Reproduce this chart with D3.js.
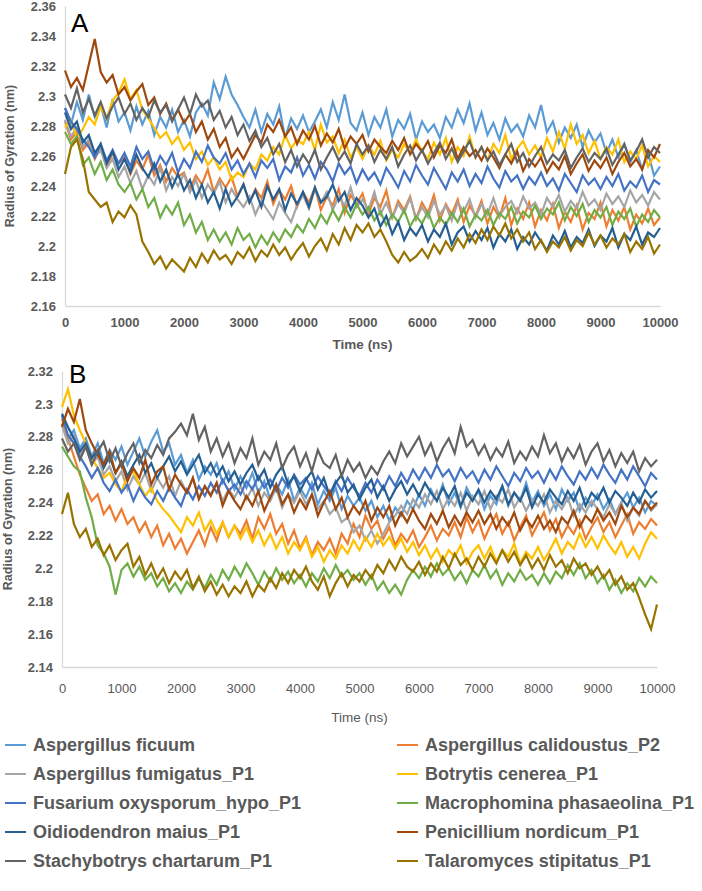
<!DOCTYPE html>
<html>
<head>
<meta charset="utf-8">
<script src="https://cdn.jsdelivr.net/npm/d3@7/dist/d3.min.js"></script>
<style>
  html, body { margin: 0; padding: 0; background: #fff; }
  svg { display: block; font-family: "Liberation Sans", Arial, sans-serif; }
</style>
</head>
<body>
<svg id="chart" width="702" height="891"></svg>
<script>
// ---------------- DATA ----------------
const timeNs = d3.range(0, 10001, 100);

const seriesNames = [
  "Aspergillus ficuum", "Aspergillus calidoustus_P2",
  "Aspergillus fumigatus_P1", "Botrytis cenerea_P1",
  "Fusarium oxysporum_hypo_P1", "Macrophomina phasaeolina_P1",
  "Oidiodendron maius_P1", "Penicillium nordicum_P1",
  "Stachybotrys chartarum_P1", "Talaromyces stipitatus_P1"
];
const seriesColors = ["#5B9BD5", "#ED7D31", "#A5A5A5", "#FFC000", "#4472C4",
                      "#70AD47", "#255E91", "#9E480E", "#636363", "#997300"];

const xTicks = [0, 1000, 2000, 3000, 4000, 5000, 6000, 7000, 8000, 9000, 10000];
const yTicksA = [2.16, 2.18, 2.2, 2.22, 2.24, 2.26, 2.28, 2.3, 2.32, 2.34, 2.36];
const yTicksB = [2.14, 2.16, 2.18, 2.2, 2.22, 2.24, 2.26, 2.28, 2.3, 2.32];

// Panel A
const A_ficuum = [2.292,2.281,2.296,2.284,2.301,2.286,2.294,2.279,2.298,2.283,
2.289,2.277,2.293,2.281,2.290,2.274,2.286,2.279,2.291,2.276,
2.284,2.273,2.289,2.295,2.287,2.309,2.298,2.313,2.301,2.294,
2.286,2.279,2.291,2.276,2.288,2.281,2.293,2.272,2.285,2.278,
2.287,2.276,2.283,2.291,2.279,2.296,2.284,2.301,2.282,2.277,
2.289,2.274,2.286,2.279,2.291,2.273,2.284,2.278,2.288,2.271,
2.283,2.276,2.281,2.272,2.286,2.279,2.291,2.282,2.295,2.277,
2.289,2.274,2.282,2.271,2.285,2.276,2.281,2.273,2.287,2.279,
2.294,2.276,2.283,2.269,2.279,2.272,2.281,2.266,2.277,2.269,
2.275,2.262,2.271,2.259,2.268,2.256,2.264,2.251,2.262,2.247,
2.253];
const A_calidoustus = [2.283,2.271,2.276,2.264,2.269,2.258,2.266,2.253,2.262,2.255,
2.259,2.248,2.257,2.251,2.261,2.247,2.254,2.243,2.252,2.246,
2.249,2.238,2.247,2.241,2.251,2.236,2.245,2.239,2.246,2.233,
2.241,2.229,2.238,2.232,2.243,2.228,2.237,2.231,2.240,2.226,
2.236,2.229,2.239,2.224,2.233,2.227,2.238,2.222,2.234,2.228,
2.235,2.221,2.232,2.226,2.237,2.219,2.230,2.224,2.233,2.218,
2.229,2.222,2.234,2.217,2.228,2.221,2.231,2.216,2.227,2.220,
2.230,2.215,2.226,2.219,2.232,2.214,2.225,2.218,2.229,2.213,
2.224,2.217,2.228,2.212,2.223,2.216,2.227,2.211,2.222,2.218,
2.229,2.213,2.224,2.217,2.226,2.211,2.221,2.215,2.225,2.214,
2.219];
const A_fumigatus = [2.284,2.273,2.279,2.266,2.271,2.259,2.264,2.252,2.258,2.246,
2.253,2.242,2.250,2.238,2.247,2.241,2.252,2.237,2.246,2.240,
2.248,2.236,2.244,2.232,2.241,2.235,2.243,2.229,2.238,2.231,
2.226,2.233,2.221,2.230,2.224,2.218,2.229,2.222,2.216,2.227,
2.234,2.225,2.238,2.229,2.236,2.224,2.233,2.227,2.239,2.226,
2.231,2.224,2.236,2.221,2.229,2.219,2.228,2.222,2.232,2.218,
2.226,2.219,2.230,2.221,2.227,2.217,2.229,2.223,2.231,2.219,
2.228,2.221,2.232,2.220,2.226,2.230,2.222,2.233,2.225,2.229,
2.221,2.232,2.226,2.234,2.223,2.230,2.225,2.236,2.227,2.231,
2.224,2.235,2.228,2.233,2.226,2.237,2.229,2.234,2.227,2.236,
2.231];
const A_botrytis = [2.279,2.284,2.272,2.278,2.286,2.281,2.293,2.285,2.297,2.302,
2.311,2.298,2.304,2.291,2.285,2.279,2.272,2.276,2.268,2.273,
2.264,2.269,2.258,2.263,2.254,2.259,2.251,2.256,2.244,2.249,
2.246,2.255,2.251,2.261,2.257,2.266,2.261,2.274,2.265,2.271,
2.268,2.276,2.264,2.281,2.269,2.273,2.262,2.271,2.259,2.266,
2.258,2.267,2.261,2.270,2.257,2.264,2.259,2.268,2.262,2.271,
2.263,2.258,2.269,2.261,2.272,2.256,2.266,2.260,2.273,2.259,
2.266,2.257,2.268,2.262,2.274,2.258,2.265,2.270,2.261,2.267,
2.259,2.272,2.263,2.276,2.265,2.281,2.268,2.274,2.262,2.270,
2.258,2.266,2.261,2.271,2.256,2.263,2.258,2.267,2.253,2.260,
2.256];
const A_fusarium = [2.292,2.283,2.278,2.271,2.266,2.259,2.268,2.257,2.264,2.255,
2.262,2.253,2.266,2.258,2.263,2.251,2.260,2.254,2.262,2.249,
2.258,2.252,2.263,2.256,2.267,2.259,2.255,2.262,2.251,2.257,
2.248,2.255,2.246,2.257,2.252,2.258,2.244,2.253,2.249,2.259,
2.247,2.254,2.245,2.256,2.251,2.243,2.255,2.248,2.253,2.242,
2.251,2.244,2.249,2.241,2.252,2.246,2.239,2.250,2.243,2.254,
2.247,2.241,2.252,2.245,2.238,2.249,2.243,2.251,2.240,2.248,
2.242,2.253,2.245,2.239,2.250,2.243,2.247,2.238,2.246,2.241,
2.249,2.240,2.245,2.237,2.248,2.242,2.236,2.247,2.241,2.245,
2.238,2.246,2.240,2.248,2.237,2.243,2.239,2.247,2.236,2.244,
2.241];
const A_macrophomina = [2.276,2.268,2.273,2.254,2.259,2.248,2.256,2.244,2.251,2.241,
2.236,2.242,2.231,2.238,2.226,2.232,2.219,2.227,2.221,2.229,
2.214,2.221,2.209,2.216,2.204,2.211,2.203,2.209,2.201,2.212,
2.204,2.208,2.199,2.207,2.201,2.209,2.203,2.211,2.206,2.214,
2.209,2.218,2.212,2.221,2.215,2.224,2.217,2.226,2.219,2.228,
2.221,2.226,2.217,2.223,2.214,2.221,2.216,2.224,2.213,2.220,
2.215,2.223,2.212,2.219,2.214,2.222,2.216,2.225,2.213,2.221,
2.217,2.224,2.214,2.222,2.218,2.226,2.215,2.223,2.219,2.227,
2.218,2.225,2.221,2.229,2.217,2.226,2.220,2.228,2.216,2.224,
2.219,2.226,2.214,2.223,2.218,2.225,2.213,2.221,2.216,2.224,
2.219];
const A_oidiodendron = [2.289,2.278,2.283,2.269,2.274,2.262,2.268,2.255,2.263,2.251,
2.258,2.249,2.261,2.252,2.246,2.255,2.243,2.251,2.239,2.248,
2.237,2.244,2.232,2.241,2.229,2.236,2.225,2.238,2.227,2.233,
2.241,2.229,2.237,2.226,2.240,2.231,2.238,2.224,2.235,2.228,
2.236,2.226,2.239,2.229,2.233,2.241,2.230,2.236,2.224,2.232,
2.227,2.219,2.225,2.213,2.220,2.208,2.216,2.204,2.212,2.207,
2.214,2.203,2.211,2.206,2.215,2.201,2.209,2.213,2.203,2.210,
2.204,2.212,2.199,2.208,2.203,2.211,2.198,2.206,2.201,2.209,
2.203,2.197,2.207,2.201,2.210,2.199,2.206,2.202,2.211,2.200,
2.207,2.203,2.212,2.199,2.208,2.204,2.213,2.201,2.209,2.206,
2.212];
const A_penicillium = [2.317,2.306,2.312,2.304,2.321,2.338,2.316,2.309,2.314,2.301,
2.306,2.297,2.303,2.308,2.294,2.299,2.288,2.295,2.284,2.291,
2.282,2.288,2.276,2.283,2.271,2.278,2.266,2.272,2.259,2.265,
2.258,2.266,2.274,2.269,2.281,2.276,2.284,2.273,2.279,2.268,
2.277,2.271,2.280,2.267,2.275,2.269,2.278,2.265,2.273,2.268,
2.274,2.263,2.271,2.266,2.262,2.270,2.264,2.272,2.261,2.268,
2.263,2.270,2.259,2.267,2.262,2.271,2.258,2.266,2.260,2.264,
2.257,2.265,2.259,2.252,2.261,2.255,2.263,2.250,2.258,2.253,
2.259,2.249,2.256,2.251,2.260,2.248,2.255,2.261,2.250,2.257,
2.252,2.259,2.248,2.256,2.262,2.253,2.258,2.251,2.264,2.259,
2.268];
const A_stachybotrys = [2.301,2.292,2.305,2.289,2.298,2.287,2.296,2.285,2.293,2.299,
2.288,2.295,2.284,2.292,2.286,2.297,2.289,2.294,2.283,2.291,
2.299,2.288,2.301,2.293,2.297,2.284,2.290,2.279,2.286,2.274,
2.281,2.270,2.277,2.266,2.272,2.261,2.268,2.256,2.264,2.253,
2.261,2.255,2.264,2.251,2.259,2.266,2.257,2.263,2.255,2.268,
2.261,2.267,2.256,2.264,2.258,2.266,2.253,2.261,2.267,2.257,
2.264,2.255,2.262,2.269,2.258,2.265,2.256,2.263,2.270,2.259,
2.266,2.257,2.263,2.254,2.261,2.268,2.256,2.262,2.253,2.260,
2.266,2.255,2.261,2.257,2.264,2.252,2.259,2.265,2.256,2.262,
2.258,2.265,2.254,2.261,2.268,2.257,2.263,2.271,2.259,2.266,
2.262];
const A_talaromyces = [2.248,2.266,2.271,2.258,2.236,2.231,2.226,2.229,2.216,2.223,
2.219,2.227,2.221,2.203,2.196,2.188,2.193,2.185,2.191,2.187,
2.183,2.192,2.186,2.195,2.189,2.197,2.191,2.194,2.188,2.196,
2.192,2.199,2.190,2.197,2.193,2.201,2.194,2.199,2.191,2.197,
2.202,2.193,2.200,2.205,2.197,2.208,2.201,2.212,2.204,2.214,
2.209,2.215,2.206,2.211,2.203,2.194,2.189,2.196,2.190,2.193,
2.198,2.192,2.201,2.195,2.203,2.197,2.205,2.199,2.208,2.202,
2.211,2.204,2.213,2.207,2.215,2.205,2.211,2.203,2.209,2.198,
2.204,2.196,2.203,2.199,2.206,2.197,2.204,2.200,2.209,2.201,
2.207,2.199,2.205,2.201,2.208,2.196,2.203,2.198,2.206,2.195,
2.201];

// Panel B
const B_ficuum = [2.288,2.279,2.284,2.273,2.279,2.268,2.276,2.264,2.272,2.266,
2.274,2.263,2.271,2.279,2.268,2.277,2.284,2.271,2.276,2.263,
2.269,2.258,2.266,2.254,2.262,2.257,2.264,2.252,2.259,2.248,
2.256,2.249,2.258,2.246,2.253,2.242,2.251,2.245,2.254,2.241,
2.249,2.243,2.252,2.239,2.247,2.241,2.249,2.236,2.244,2.238,
2.243,2.235,2.241,2.231,2.238,2.229,2.237,2.232,2.241,2.236,
2.245,2.238,2.248,2.241,2.251,2.239,2.246,2.237,2.249,2.242,
2.247,2.236,2.244,2.239,2.250,2.238,2.246,2.241,2.252,2.240,
2.247,2.238,2.245,2.236,2.248,2.241,2.246,2.235,2.243,2.238,
2.245,2.236,2.242,2.233,2.240,2.246,2.237,2.243,2.234,2.241,
2.238];
const B_calidoustus = [2.291,2.279,2.268,2.257,2.249,2.241,2.245,2.233,2.238,2.229,
2.236,2.227,2.231,2.222,2.228,2.219,2.226,2.214,2.221,2.212,
2.218,2.209,2.216,2.223,2.214,2.225,2.217,2.228,2.219,2.226,
2.221,2.229,2.218,2.231,2.224,2.233,2.221,2.227,2.215,2.223,
2.212,2.219,2.208,2.216,2.211,2.218,2.209,2.221,2.215,2.227,
2.219,2.232,2.224,2.229,2.218,2.225,2.214,2.221,2.216,2.223,
2.213,2.219,2.226,2.217,2.224,2.220,2.228,2.219,2.231,2.222,
2.229,2.218,2.226,2.233,2.221,2.228,2.217,2.225,2.232,2.220,
2.227,2.234,2.223,2.230,2.219,2.226,2.221,2.229,2.218,2.225,
2.231,2.222,2.228,2.219,2.226,2.233,2.221,2.228,2.224,2.230,
2.226];
const B_fumigatus = [2.287,2.276,2.281,2.269,2.274,2.263,2.268,2.257,2.262,2.253,
2.259,2.248,2.256,2.251,2.258,2.247,2.255,2.249,2.256,2.244,
2.253,2.246,2.255,2.243,2.250,2.245,2.252,2.241,2.248,2.243,
2.250,2.242,2.249,2.238,2.246,2.241,2.249,2.237,2.245,2.240,
2.247,2.239,2.245,2.236,2.241,2.233,2.237,2.228,2.231,2.222,
2.226,2.217,2.223,2.215,2.221,2.228,2.232,2.238,2.233,2.242,
2.237,2.245,2.239,2.247,2.236,2.243,2.238,2.246,2.235,2.244,
2.239,2.247,2.236,2.244,2.240,2.248,2.237,2.243,2.235,2.242,
2.238,2.245,2.234,2.241,2.236,2.243,2.232,2.239,2.234,2.241,
2.236,2.231,2.239,2.233,2.240,2.229,2.237,2.232,2.241,2.235,
2.239];
const B_botrytis = [2.298,2.309,2.293,2.284,2.276,2.267,2.261,2.255,2.258,2.251,
2.247,2.256,2.259,2.251,2.244,2.249,2.241,2.236,2.232,2.227,
2.222,2.231,2.226,2.234,2.223,2.229,2.221,2.228,2.219,2.226,
2.218,2.225,2.216,2.223,2.214,2.221,2.212,2.219,2.209,2.216,
2.211,2.218,2.207,2.213,2.204,2.211,2.206,2.214,2.209,2.217,
2.211,2.219,2.213,2.221,2.214,2.219,2.212,2.218,2.210,2.216,
2.208,2.214,2.206,2.212,2.204,2.211,2.207,2.214,2.203,2.210,
2.214,2.206,2.213,2.204,2.211,2.207,2.215,2.203,2.210,2.206,
2.213,2.205,2.211,2.218,2.209,2.216,2.212,2.221,2.213,2.219,
2.212,2.220,2.214,2.209,2.216,2.207,2.213,2.206,2.215,2.222,
2.218];
const B_fusarium = [2.293,2.281,2.276,2.268,2.262,2.255,2.261,2.252,2.247,2.254,
2.246,2.251,2.241,2.249,2.243,2.239,2.247,2.241,2.249,2.243,
2.238,2.248,2.242,2.250,2.244,2.252,2.246,2.254,2.247,2.251,
2.245,2.253,2.248,2.256,2.249,2.254,2.247,2.255,2.249,2.257,
2.251,2.255,2.248,2.256,2.250,2.245,2.253,2.247,2.255,2.249,
2.244,2.252,2.246,2.254,2.248,2.256,2.250,2.258,2.252,2.260,
2.254,2.261,2.255,2.263,2.256,2.260,2.253,2.261,2.255,2.259,
2.252,2.260,2.254,2.262,2.256,2.250,2.258,2.253,2.261,2.255,
2.259,2.252,2.260,2.254,2.262,2.256,2.251,2.259,2.254,2.261,
2.255,2.263,2.257,2.252,2.260,2.254,2.262,2.256,2.250,2.258,
2.254];
const B_macrophomina = [2.274,2.268,2.262,2.259,2.243,2.231,2.214,2.209,2.201,2.184,
2.199,2.203,2.195,2.201,2.193,2.197,2.189,2.194,2.186,2.191,
2.185,2.192,2.187,2.194,2.188,2.196,2.190,2.199,2.193,2.201,
2.195,2.203,2.197,2.190,2.198,2.192,2.200,2.193,2.198,2.191,
2.196,2.189,2.197,2.192,2.200,2.194,2.202,2.195,2.199,2.193,
2.197,2.190,2.196,2.187,2.192,2.185,2.190,2.184,2.193,2.199,
2.194,2.201,2.195,2.203,2.196,2.200,2.193,2.198,2.191,2.199,
2.195,2.202,2.194,2.199,2.190,2.197,2.192,2.199,2.193,2.196,
2.190,2.197,2.191,2.198,2.194,2.202,2.196,2.203,2.194,2.199,
2.191,2.196,2.187,2.193,2.185,2.191,2.186,2.194,2.189,2.195,
2.191];
const B_oidiodendron = [2.294,2.286,2.279,2.271,2.276,2.267,2.272,2.261,2.268,2.258,
2.265,2.256,2.263,2.269,2.258,2.264,2.255,2.262,2.268,2.259,
2.265,2.257,2.263,2.269,2.258,2.264,2.256,2.262,2.253,2.259,
2.251,2.258,2.263,2.254,2.260,2.249,2.257,2.262,2.251,2.256,
2.247,2.254,2.259,2.248,2.255,2.244,2.252,2.257,2.246,2.251,
2.242,2.249,2.254,2.243,2.250,2.241,2.248,2.253,2.245,2.251,
2.244,2.252,2.246,2.241,2.249,2.243,2.250,2.238,2.246,2.241,
2.248,2.240,2.247,2.242,2.250,2.239,2.246,2.241,2.249,2.237,
2.245,2.240,2.248,2.243,2.239,2.247,2.241,2.249,2.238,2.246,
2.242,2.249,2.240,2.247,2.243,2.238,2.246,2.240,2.248,2.243,
2.247];
const B_penicillium = [2.286,2.297,2.289,2.303,2.284,2.276,2.269,2.263,2.271,2.258,
2.264,2.253,2.261,2.255,2.266,2.251,2.259,2.262,2.248,2.257,
2.251,2.246,2.255,2.242,2.250,2.244,2.252,2.238,2.247,2.241,
2.236,2.244,2.238,2.247,2.235,2.243,2.251,2.239,2.245,2.234,
2.242,2.236,2.245,2.232,2.240,2.247,2.236,2.243,2.231,2.238,
2.233,2.241,2.229,2.237,2.231,2.238,2.226,2.234,2.228,2.236,
2.229,2.224,2.233,2.227,2.235,2.225,2.232,2.226,2.234,2.228,
2.235,2.227,2.233,2.224,2.231,2.226,2.234,2.223,2.230,2.225,
2.232,2.224,2.229,2.222,2.231,2.227,2.235,2.225,2.232,2.228,
2.236,2.229,2.234,2.227,2.238,2.231,2.237,2.233,2.241,2.236,
2.240];
const B_stachybotrys = [2.279,2.271,2.276,2.266,2.274,2.263,2.271,2.277,2.265,2.273,
2.262,2.270,2.276,2.264,2.272,2.267,2.275,2.269,2.279,2.283,
2.288,2.281,2.294,2.278,2.286,2.271,2.279,2.268,2.276,2.264,
2.273,2.267,2.279,2.263,2.271,2.266,2.276,2.261,2.269,2.274,
2.262,2.270,2.259,2.272,2.264,2.261,2.269,2.256,2.266,2.259,
2.264,2.255,2.262,2.257,2.265,2.271,2.264,2.276,2.268,2.274,
2.280,2.269,2.276,2.265,2.273,2.279,2.270,2.286,2.274,2.278,
2.269,2.275,2.266,2.273,2.268,2.277,2.264,2.271,2.266,2.274,
2.268,2.281,2.270,2.276,2.265,2.273,2.267,2.275,2.263,2.271,
2.276,2.265,2.272,2.262,2.270,2.264,2.271,2.259,2.267,2.262,
2.266];
const B_talaromyces = [2.233,2.246,2.227,2.219,2.224,2.213,2.218,2.208,2.214,2.205,
2.211,2.215,2.201,2.207,2.196,2.203,2.194,2.200,2.191,2.198,
2.193,2.199,2.188,2.195,2.186,2.192,2.184,2.190,2.183,2.189,
2.185,2.192,2.183,2.190,2.186,2.194,2.188,2.197,2.191,2.199,
2.194,2.201,2.192,2.187,2.195,2.183,2.191,2.197,2.189,2.196,
2.192,2.199,2.194,2.202,2.197,2.205,2.199,2.207,2.201,2.198,
2.204,2.196,2.203,2.198,2.207,2.200,2.209,2.202,2.206,2.199,
2.207,2.201,2.209,2.203,2.211,2.204,2.210,2.202,2.208,2.200,
2.206,2.199,2.208,2.201,2.205,2.197,2.206,2.200,2.203,2.196,
2.201,2.194,2.199,2.190,2.195,2.187,2.191,2.182,2.172,2.163,
2.178];

const panelASeries = [A_ficuum, A_calidoustus, A_fumigatus, A_botrytis, A_fusarium,
  A_macrophomina, A_oidiodendron, A_penicillium, A_stachybotrys, A_talaromyces];
const panelBSeries = [B_ficuum, B_calidoustus, B_fumigatus, B_botrytis, B_fusarium,
  B_macrophomina, B_oidiodendron, B_penicillium, B_stachybotrys, B_talaromyces];

// ---------------- DRAWING ----------------
const svg = d3.select("#chart");
const FONT = '"Liberation Sans", Arial, sans-serif';
const GREY_TEXT = "#595959";
const AXIS_GREY = "#D9D9D9";

function drawPanel(cfg) {
  const x = d3.scaleLinear().domain([0, 10000]).range([cfg.left, cfg.right]);
  const y = d3.scaleLinear().domain(cfg.yDomain).range([cfg.bottom, cfg.top]);
  const g = svg.append("g");

  // axes
  const yAxis = d3.axisLeft(y).tickValues(cfg.yTicks)
    .tickFormat(d => String(+d.toFixed(2))).tickSize(0).tickPadding(9);
  const ya = g.append("g").attr("transform", `translate(${cfg.left},0)`).call(yAxis);
  ya.select(".domain").attr("stroke", AXIS_GREY).attr("stroke-width", 1.3);
  ya.selectAll("text").attr("fill", GREY_TEXT).attr("font-size", 13)
    .attr("font-weight", "bold").attr("font-family", FONT);

  const xAxis = d3.axisBottom(x).tickValues(xTicks).tickFormat(d3.format("d"))
    .tickSize(0).tickPadding(cfg.xPad);
  const xa = g.append("g").attr("transform", `translate(0,${cfg.bottom})`).call(xAxis);
  xa.select(".domain").attr("stroke", AXIS_GREY).attr("stroke-width", 1.3);
  xa.selectAll("text").attr("fill", GREY_TEXT).attr("font-size", 13)
    .attr("font-weight", cfg.xWeight).attr("font-family", FONT);

  // lines
  const line = d3.line().x((d, i) => x(timeNs[i])).y(d => y(d));
  g.append("g").selectAll("path").data(cfg.series).join("path")
    .attr("d", d => line(d))
    .attr("fill", "none")
    .attr("stroke", (d, i) => seriesColors[i])
    .attr("stroke-width", 2.2)
    .attr("stroke-linejoin", "miter")
    .attr("stroke-miterlimit", 4);

  // y title
  g.append("text")
    .attr("transform", `translate(${cfg.yTitleX},${(cfg.top + cfg.bottom) / 2}) rotate(-90)`)
    .attr("text-anchor", "middle")
    .attr("font-family", FONT).attr("font-size", 12.5).attr("font-weight", "bold")
    .attr("fill", GREY_TEXT)
    .text("Radius of Gyration (nm)");

  // x title
  g.append("text")
    .attr("x", (cfg.left + cfg.right) / 2).attr("y", cfg.xTitleY)
    .attr("text-anchor", "middle")
    .attr("font-family", FONT).attr("font-size", 13.5).attr("font-weight", cfg.xWeight)
    .attr("fill", GREY_TEXT)
    .text("Time (ns)");

  // panel letter
  g.append("text")
    .attr("x", cfg.letterX).attr("y", cfg.letterY)
    .attr("font-family", FONT).attr("font-size", 26).attr("fill", "#000")
    .text(cfg.letter);
}

drawPanel({
  series: panelASeries, yDomain: [2.16, 2.36], yTicks: yTicksA,
  left: 65, right: 660, top: 6, bottom: 306,
  xPad: 12, xWeight: "bold", xTitleY: 349, yTitleX: 14,
  letter: "A", letterX: 71, letterY: 32
});

drawPanel({
  series: panelBSeries, yDomain: [2.14, 2.32], yTicks: yTicksB,
  left: 62, right: 657, top: 371, bottom: 667,
  xPad: 17, xWeight: "normal", xTitleY: 722, yTitleX: 12,
  letter: "B", letterX: 69, letterY: 383
});

// legend
const legendRows = [745, 774, 803, 832, 861];
const legendCols = [5, 397];
const legend = svg.append("g");
seriesNames.forEach((name, i) => {
  const col = i % 2, row = Math.floor(i / 2);
  const lx = legendCols[col], ly = legendRows[row];
  legend.append("line")
    .attr("x1", lx).attr("x2", lx + 21).attr("y1", ly).attr("y2", ly)
    .attr("stroke", seriesColors[i]).attr("stroke-width", 2);
  legend.append("text")
    .attr("x", lx + 28).attr("y", ly).attr("dy", "0.35em")
    .attr("font-family", FONT).attr("font-size", 18).attr("font-weight", "bold")
    .attr("fill", GREY_TEXT)
    .text(name);
});
</script>
</body>
</html>
